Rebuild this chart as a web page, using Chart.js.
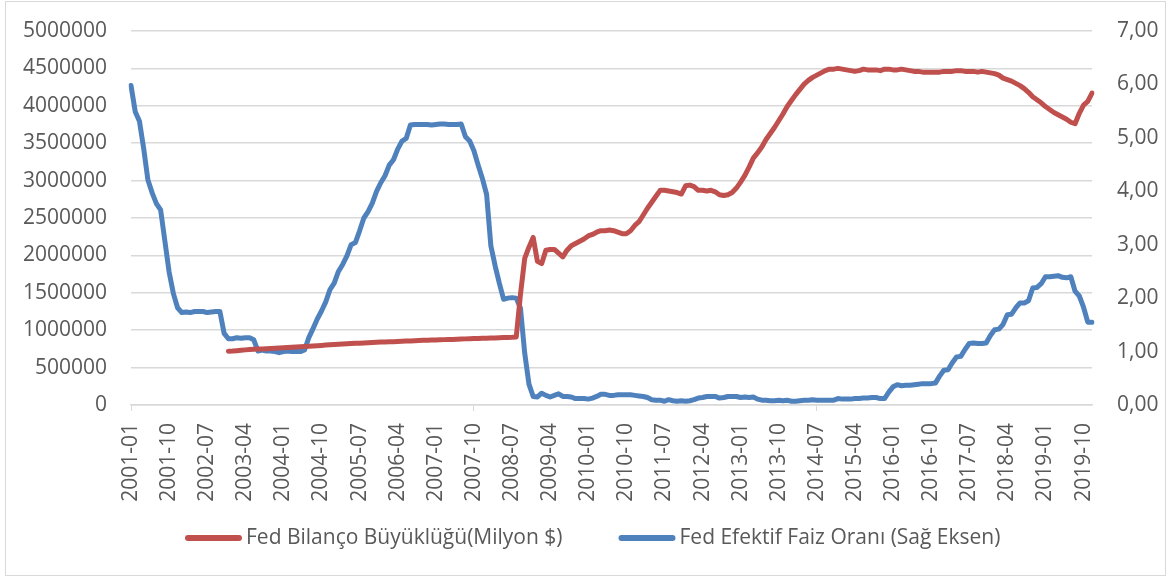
<!DOCTYPE html>
<html>
<head>
<meta charset="utf-8">
<script src="https://cdn.jsdelivr.net/npm/chart.js@4.4.1/dist/chart.umd.min.js"></script>
<style>
  html, body { margin: 0; padding: 0; background: #fff; }
  #wrap { position: relative; width: 1169px; height: 577px; }
  #frame { position: absolute; left: 5px; top: 1px; width: 1159px; height: 573px; border: 1px solid #d9d9d9; pointer-events: none; }
</style>
</head>
<body>
<div id="wrap">
  <canvas id="grafico" width="1169" height="577"></canvas>
  <div id="frame"></div>
</div>
<script>
// aylık veriler 2001-01 .. 2019-12
const ilkYil = 2001;
const sonYil = 2019;
const etiketAdimi = 9; // her 9 ayda bir etiket

// Fed Efektif Faiz Oranı (%), 2001-01'den itibaren
const faizOrani = [
  5.98, 5.49, 5.31, 4.80, 4.21, 3.97, 3.77, 3.65, 3.07, 2.49, 2.09, 1.82,
  1.73, 1.74, 1.73, 1.75, 1.75, 1.75, 1.73, 1.74, 1.75, 1.75, 1.34, 1.24,
  1.24, 1.26, 1.25, 1.26, 1.26, 1.22, 1.01, 1.03, 1.01, 1.01, 1.00, 0.98,
  1.00, 1.01, 1.00, 1.00, 1.00, 1.03, 1.26, 1.43, 1.61, 1.76, 1.93, 2.16,
  2.28, 2.50, 2.63, 2.79, 3.00, 3.04, 3.26, 3.50, 3.62, 3.78, 4.00, 4.16,
  4.29, 4.49, 4.59, 4.79, 4.94, 4.99, 5.24, 5.25, 5.25, 5.25, 5.25, 5.24,
  5.25, 5.26, 5.26, 5.25, 5.25, 5.25, 5.26, 5.02, 4.94, 4.76, 4.49, 4.24,
  3.94, 2.98, 2.61, 2.28, 1.98, 2.00, 2.01, 2.00, 1.81, 0.97, 0.39, 0.16,
  0.15, 0.22, 0.18, 0.15, 0.18, 0.21, 0.16, 0.16, 0.15, 0.12, 0.12, 0.12,
  0.11, 0.13, 0.16, 0.20, 0.20, 0.18, 0.18, 0.19, 0.19, 0.19, 0.19, 0.18,
  0.17, 0.16, 0.14, 0.10, 0.09, 0.09, 0.07, 0.10, 0.08, 0.07, 0.08, 0.07,
  0.08, 0.10, 0.13, 0.14, 0.16, 0.16, 0.16, 0.13, 0.14, 0.16, 0.16, 0.16,
  0.14, 0.15, 0.14, 0.15, 0.11, 0.09, 0.09, 0.08, 0.08, 0.09, 0.08, 0.09,
  0.07, 0.07, 0.08, 0.09, 0.09, 0.10, 0.09, 0.09, 0.09, 0.09, 0.09, 0.12,
  0.11, 0.11, 0.11, 0.12, 0.12, 0.13, 0.13, 0.14, 0.14, 0.12, 0.12, 0.24,
  0.34, 0.38, 0.36, 0.37, 0.37, 0.38, 0.39, 0.40, 0.40, 0.40, 0.41, 0.54,
  0.65, 0.66, 0.79, 0.90, 0.91, 1.04, 1.15, 1.16, 1.15, 1.15, 1.16, 1.30,
  1.41, 1.42, 1.51, 1.69, 1.70, 1.82, 1.91, 1.91, 1.95, 2.19, 2.20, 2.27,
  2.40, 2.40, 2.41, 2.42, 2.39, 2.38, 2.40, 2.13, 2.04, 1.83, 1.55, 1.55
];

// Fed Bilanço Büyüklüğü (Milyon $), 2002-12'den itibaren
const bilancoBaslangic = "2002-12";
const bilanco = [
  720000,
  722000, 726000, 731000, 737000, 742000, 745000, 748000, 750000, 752000, 755000, 758000, 762000,
  765000, 768000, 772000, 775000, 778000, 781000, 785000, 789000, 793000, 797000, 801000, 806000,
  810000, 812000, 815000, 818000, 821000, 824000, 827000, 830000, 833000, 835000, 838000, 841000,
  843000, 845000, 847000, 849000, 851000, 854000, 857000, 860000, 862000, 864000, 866000, 869000,
  870000, 872000, 874000, 876000, 877000, 879000, 881000, 884000, 886000, 888000, 890000, 892000,
  893000, 895000, 897000, 899000, 901000, 903000, 905000, 910000, 1480000, 1960000, 2110000, 2240000,
  1920000, 1890000, 2070000, 2080000, 2080000, 2030000, 1980000, 2070000, 2130000, 2160000, 2190000, 2220000,
  2260000, 2280000, 2310000, 2330000, 2330000, 2340000, 2330000, 2310000, 2290000, 2290000, 2330000, 2400000,
  2450000, 2540000, 2630000, 2710000, 2790000, 2870000, 2870000, 2860000, 2850000, 2840000, 2820000, 2930000,
  2940000, 2920000, 2870000, 2870000, 2860000, 2870000, 2850000, 2810000, 2800000, 2810000, 2840000, 2900000,
  2980000, 3070000, 3180000, 3300000, 3370000, 3450000, 3550000, 3630000, 3710000, 3800000, 3890000, 3990000,
  4070000, 4150000, 4220000, 4290000, 4340000, 4380000, 4410000, 4440000, 4470000, 4490000, 4490000, 4500000,
  4490000, 4480000, 4470000, 4460000, 4470000, 4490000, 4480000, 4480000, 4480000, 4470000, 4490000, 4490000,
  4480000, 4480000, 4490000, 4480000, 4470000, 4460000, 4460000, 4450000, 4450000, 4450000, 4450000, 4450000,
  4460000, 4460000, 4460000, 4470000, 4470000, 4460000, 4460000, 4460000, 4450000, 4460000, 4450000, 4440000,
  4430000, 4410000, 4370000, 4350000, 4330000, 4300000, 4270000, 4230000, 4180000, 4120000, 4080000, 4040000,
  3990000, 3950000, 3910000, 3880000, 3850000, 3820000, 3780000, 3760000, 3900000, 4010000, 4060000, 4170000
];

const aylar = [];
for (let y = ilkYil; y <= sonYil; y++) {
  for (let m = 1; m <= 12; m++) aylar.push(y + "-" + String(m).padStart(2, "0"));
}
const bos = aylar.indexOf(bilancoBaslangic);
const bilancoSeri = new Array(bos).fill(null).concat(bilanco);

const yaziRengi = "#595959";
const izgaraRengi = "#d9d9d9";
const yaziTipi = "'Open Sans', sans-serif";
Chart.defaults.font.family = yaziTipi;
Chart.defaults.font.size = 21;
Chart.defaults.color = yaziRengi;

// Excel tarzı lejant: kısa çizgi + metin, alt ortada
const lejantEklentisi = {
  id: "lejant",
  afterDraw(chart) {
    const c = chart.ctx;
    const y = 538;
    let x = 185;
    c.save();
    c.font = "21px " + yaziTipi;
    c.textBaseline = "middle";
    chart.data.datasets.forEach((ds) => {
      c.strokeStyle = ds.borderColor;
      c.lineWidth = 6;
      c.lineCap = "round";
      c.beginPath();
      c.moveTo(x + 3, y);
      c.lineTo(x + 54, y);
      c.stroke();
      c.fillStyle = yaziRengi;
      c.fillText(ds.label, x + 61, y);
      x += 61 + c.measureText(ds.label).width + 56;
    });
    c.restore();
  },
};

const ctx = document.getElementById("grafico").getContext("2d");
new Chart(ctx, {
  type: "line",
  data: {
    labels: aylar,
    datasets: [
      {
        label: "Fed Bilanço Büyüklüğü(Milyon $)",
        data: bilancoSeri,
        borderColor: "#c0504d",
        backgroundColor: "#c0504d",
        borderWidth: 5,
        pointRadius: 0,
        tension: 0,
        borderCapStyle: "round",
        borderJoinStyle: "round",
        yAxisID: "y",
      },
      {
        label: "Fed Efektif Faiz Oranı (Sağ Eksen)",
        data: faizOrani,
        borderColor: "#4f81bd",
        backgroundColor: "#4f81bd",
        borderWidth: 5,
        pointRadius: 0,
        tension: 0,
        borderCapStyle: "round",
        borderJoinStyle: "round",
        yAxisID: "y1",
      },
    ],
  },
  options: {
    responsive: false,
    animation: false,
    devicePixelRatio: 1,
    layout: { padding: { top: 31, left: 0, right: 0, bottom: 72 } },
    plugins: {
      tooltip: { enabled: false },
      legend: { display: false },
    },
    scales: {
      x: {
        type: "category",
        offset: false,
        grid: {
          drawOnChartArea: false,
          drawTicks: true,
          tickLength: 6,
          color: (c) => (c.index % etiketAdimi === 0 ? izgaraRengi : "rgba(0,0,0,0)"),
        },
        border: { display: true, color: izgaraRengi, width: 1.5 },
        ticks: {
          autoSkip: false,
          minRotation: 90,
          maxRotation: 90,
          padding: 12,
          callback: function (v, i) {
            return i % etiketAdimi === 0 ? aylar[i] : null;
          },
        },
        afterFit: (s) => { s.height = 100; },
      },
      y: {
        position: "left",
        min: 0,
        max: 5000000,
        // etiket boşluğu görünmez tik çizgisiyle veriliyor
        grid: { color: izgaraRengi, lineWidth: 1.5, drawTicks: true, tickLength: 24, tickColor: "rgba(0,0,0,0)" },
        border: { display: false },
        ticks: { stepSize: 500000, padding: 0, callback: (v) => String(v) },
        afterFit: (s) => { s.width = 131; },
      },
      y1: {
        position: "right",
        min: 0,
        max: 7,
        grid: { drawOnChartArea: false, drawTicks: true, tickLength: 25, tickColor: "rgba(0,0,0,0)" },
        border: { display: false },
        ticks: { stepSize: 1, padding: 0, callback: (v) => v.toFixed(2).replace(".", ",") },
        afterFit: (s) => { s.width = 77; },
      },
    },
  },
  plugins: [lejantEklentisi],
});
</script>
</body>
</html>
